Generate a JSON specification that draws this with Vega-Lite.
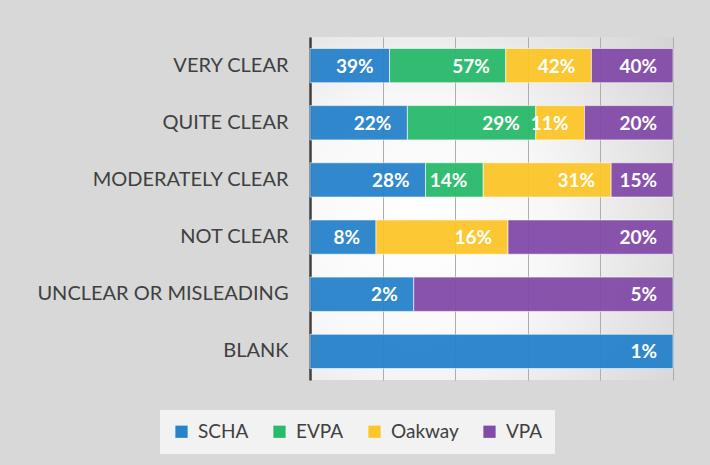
{
  "$schema": "https://vega.github.io/schema/vega-lite/v6.json",
  "autosize": "none",
  "width": 363,
  "height": 343,
  "padding": {"left": 310, "top": 37, "right": 37, "bottom": 85},
  "background": "#d8d8d8",
  "config": {
    "view": {
      "stroke": null,
      "fill": {
        "gradient": "radial",
        "x1": 0.3, "y1": 0.55, "r1": 0,
        "x2": 0.3, "y2": 0.55, "r2": 0.9,
        "stops": [
          {"offset": 0, "color": "#ffffff"},
          {"offset": 0.4, "color": "#f8f8f8"},
          {"offset": 1, "color": "#d2d2d2"}
        ]
      }
    },
    "font": "Lato"
  },
  "data": {
    "values": [
      {"category": "VERY CLEAR", "org": "SCHA", "o": 1, "value": 39, "label": "39%"},
      {"category": "VERY CLEAR", "org": "EVPA", "o": 2, "value": 57, "label": "57%"},
      {"category": "VERY CLEAR", "org": "Oakway", "o": 3, "value": 42, "label": "42%"},
      {"category": "VERY CLEAR", "org": "VPA", "o": 4, "value": 40, "label": "40%"},
      {"category": "QUITE CLEAR", "org": "SCHA", "o": 1, "value": 22, "label": "22%"},
      {"category": "QUITE CLEAR", "org": "EVPA", "o": 2, "value": 29, "label": "29%"},
      {"category": "QUITE CLEAR", "org": "Oakway", "o": 3, "value": 11, "label": "11%"},
      {"category": "QUITE CLEAR", "org": "VPA", "o": 4, "value": 20, "label": "20%"},
      {"category": "MODERATELY CLEAR", "org": "SCHA", "o": 1, "value": 28, "label": "28%"},
      {"category": "MODERATELY CLEAR", "org": "EVPA", "o": 2, "value": 14, "label": "14%"},
      {"category": "MODERATELY CLEAR", "org": "Oakway", "o": 3, "value": 31, "label": "31%"},
      {"category": "MODERATELY CLEAR", "org": "VPA", "o": 4, "value": 15, "label": "15%"},
      {"category": "NOT CLEAR", "org": "SCHA", "o": 1, "value": 8, "label": "8%"},
      {"category": "NOT CLEAR", "org": "Oakway", "o": 3, "value": 16, "label": "16%"},
      {"category": "NOT CLEAR", "org": "VPA", "o": 4, "value": 20, "label": "20%"},
      {"category": "UNCLEAR OR MISLEADING", "org": "SCHA", "o": 1, "value": 2, "label": "2%"},
      {"category": "UNCLEAR OR MISLEADING", "org": "VPA", "o": 4, "value": 5, "label": "5%"},
      {"category": "BLANK", "org": "SCHA", "o": 1, "value": 1, "label": "1%"}
    ]
  },
  "encoding": {
    "y": {
      "field": "category",
      "type": "nominal",
      "sort": ["VERY CLEAR", "QUITE CLEAR", "MODERATELY CLEAR", "NOT CLEAR", "UNCLEAR OR MISLEADING", "BLANK"],
      "scale": {"paddingInner": 0.4, "paddingOuter": 0.2},
      "axis": {
        "title": null,
        "ticks": false,
        "domainColor": "#404040",
        "domainWidth": 2.5,
        "labelFont": "Lato",
        "labelFontSize": 20,
        "labelColor": "#404040",
        "labelPadding": 22,
        "labelLimit": 300
      }
    },
    "x": {
      "field": "value",
      "type": "quantitative",
      "aggregate": "sum",
      "stack": "normalize",
      "scale": {"domain": [0, 1], "nice": false},
      "axis": {
        "title": null,
        "labels": false,
        "ticks": false,
        "domain": false,
        "grid": true,
        "gridColor": "#adadad",
        "gridWidth": 1,
        "values": [0, 0.2, 0.4, 0.6, 0.8, 1]
      }
    },
    "order": {"field": "o", "type": "quantitative"}
  },
  "layer": [
    {
      "mark": {"type": "bar", "opacity": 0.95, "stroke": "#ffffff", "strokeOpacity": 0.6, "strokeWidth": 1},
      "encoding": {
        "color": {
          "field": "org",
          "type": "nominal",
          "scale": {
            "domain": ["SCHA", "EVPA", "Oakway", "VPA"],
            "range": ["#2782CA", "#29BA6B", "#FCC62A", "#824BA8"]
          },
          "legend": {
            "title": null,
            "orient": "none",
            "legendX": -150,
            "legendY": 373,
            "direction": "horizontal",
            "fillColor": "#f2f2f2",
            "padding": 12,
            "symbolType": "square",
            "symbolSize": 150,
            "symbolStrokeWidth": 0,
            "symbolOpacity": 1,
            "labelFont": "Lato",
            "labelFontSize": 19,
            "labelColor": "#404040",
            "labelOffset": 7,
            "columnPadding": 21
          }
        }
      }
    },
    {
      "mark": {"type": "text", "align": "right", "baseline": "middle", "dx": -16, "dy": 1, "color": "#ffffff", "fontWeight": "bold", "fontSize": 19, "font": "Lato"},
      "encoding": {
        "text": {"field": "label", "type": "nominal"},
        "detail": {"field": "org", "type": "nominal"}
      }
    }
  ]
}
